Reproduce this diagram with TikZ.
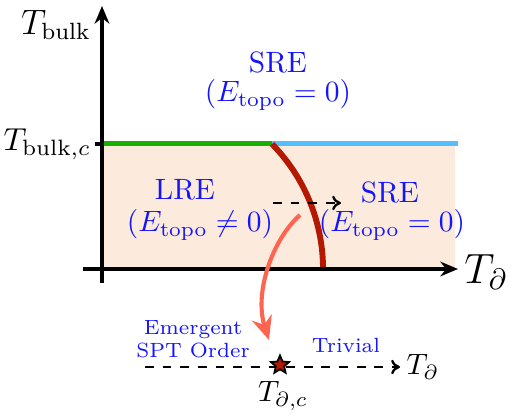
\documentclass[tikz,border=0pt]{standalone}
\usetikzlibrary{arrows.meta,shapes.geometric}
\definecolor{peach}{RGB}{252,235,220}
\definecolor{lgreen}{RGB}{26,176,0}
\definecolor{lblue}{RGB}{85,190,255}
\definecolor{dred}{RGB}{180,24,0}
\definecolor{salmon}{RGB}{255,100,80}
\definecolor{tblue}{RGB}{20,20,255}
\begin{document}
\begin{tikzpicture}[x=0.34pt,y=0.34pt,
  axis/.style={line width=1.1pt,-{Stealth[length=6pt,width=5pt]}},
  region/.style={text=tblue,font=\normalsize,inner sep=1pt},
  smalltxt/.style={text=tblue,font=\scriptsize,align=center,inner sep=1pt},
  dasharrow/.style={dashed,line width=0.8pt,-{To[length=3pt,width=5pt]}},
  lbl/.style={inner sep=1pt}]
\useasboundingbox (0,0) rectangle (522,418);
% shaded region
\fill[peach] (102,149) rectangle (455,274);
% coordinates
\coordinate (vb) at (102,135);
\coordinate (vt) at (102,412);
\coordinate (hl) at (83,149);
\coordinate (hr) at (458,149);
\coordinate (tk) at (95,274);
\coordinate (tc) at (102,274);
\coordinate (tm) at (272,274);
\coordinate (tr) at (458,274);
% phase boundaries
\draw[lgreen,line width=1.7pt] (tc) -- (tm);
\draw[lblue,line width=1.7pt] (tm) -- (tr);
\draw[dred,line width=2pt] (tm) arc[start angle=44.4,end angle=0,radius=178.7];
% axes
\draw[axis] (vb) -- (vt);
\draw[axis] (hl) -- (hr);
\draw[line width=1.1pt] (tk) -- (tc);
% axis labels
\node[lbl,font=\large] (tbulk) at (56,393) {$T_{\mathrm{bulk}}$};
\node[lbl,anchor=east,scale=1.08] (tbulkc) at (95,274) {$T_{\mathrm{bulk},c}$};
\node[lbl,font=\Large] (tdel) at (486,146) {$T_\partial$};
% region labels
\node[region] (sre1) at (278,356) {SRE};
\node[region] (sre1e) at (278,323) {$(E_{\mathrm{topo}}=0)$};
\node[region] (lre) at (185,228) {LRE};
\node[region] (lree) at (200,193) {$(E_{\mathrm{topo}}\neq 0)$};
\node[region] (sre2) at (390,226) {SRE};
\node[region] (sre2e) at (392,193) {$(E_{\mathrm{topo}}=0)$};
% dashed arrow in region
\coordinate (da) at (273,215);
\coordinate (db) at (341,215);
\draw[dasharrow] (da) -- (db);
% bottom line
\coordinate (bl) at (145,51);
\coordinate (br) at (400,51);
\draw[dasharrow] (bl) -- (br);
\node[lbl,anchor=west] (tdel2) at (403,51) {$T_\partial$};
\node[star,star points=5,star point ratio=2.2,minimum size=6.5pt,inner sep=0pt,fill=dred,draw=black,line width=0.6pt] (st) at (280,53) {};
\node[lbl] (tdelc) at (283,22) {$T_{\partial,c}$};
\node[smalltxt] (emer) at (193,79) {Emergent\\SPT\ Order};
\node[smalltxt] (triv) at (346,73) {Trivial};
% salmon arrow
\coordinate (sa) at (300,203);
\coordinate (sb) at (269,78);
\draw[salmon,line width=1.4pt,-{Stealth[length=8pt,width=7pt]}] (sa) .. controls (272,178) and (254,125) .. (sb);
\end{tikzpicture}
\end{document}
